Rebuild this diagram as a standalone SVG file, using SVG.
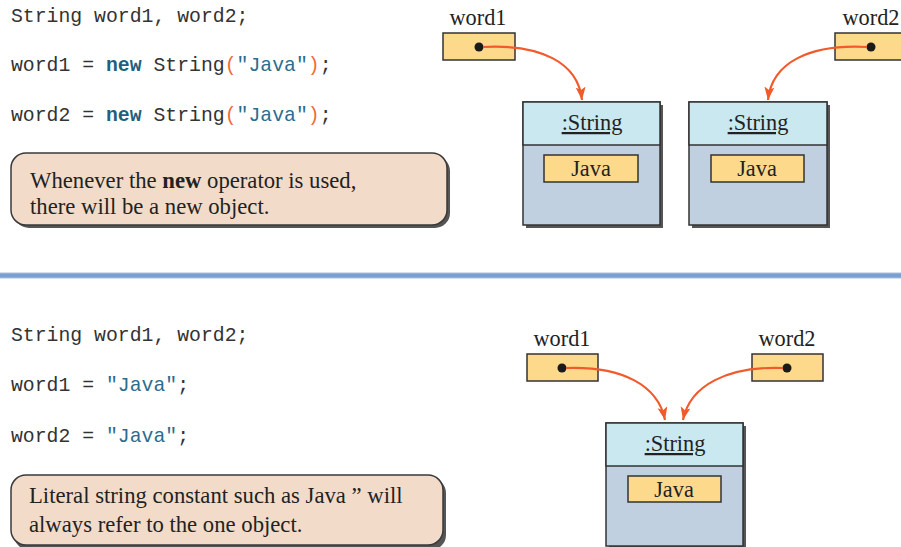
<svg xmlns="http://www.w3.org/2000/svg" width="901" height="547" viewBox="0 0 901 547">
<style>
.code{font-family:"Liberation Mono","Courier New",monospace;font-size:19.8px;fill:#333;}
.kw{font-weight:bold;fill:#1f5f80;}
.str{fill:#2a6d8f;}
.par{fill:#f06a34;}
.serif{font-family:"Liberation Serif","Times New Roman",serif;font-size:22.3px;fill:#222;}
.note{font-family:"Liberation Serif","Times New Roman",serif;font-size:22.7px;fill:#222;}
.callout{fill:#f2dcc9;stroke:#3a3a3a;stroke-width:1.5;}
.cshadow{fill:#555;}
.ref{fill:#fdd98b;stroke:#333;stroke-width:1.5;}
.hdr{fill:#c9e8ef;stroke:#333;stroke-width:1.5;}
.body{fill:#c1d0e0;stroke:#333;stroke-width:1.5;}
.oshadow{fill:#555;}
.dot{fill:#1a1a1a;}
.conn{fill:none;stroke:#f15a2b;stroke-width:2.2;marker-end:url(#ah);}
</style>
<defs>
<marker id="ah" markerUnits="userSpaceOnUse" markerWidth="14" markerHeight="12" refX="13" refY="5" orient="auto">
<path d="M0,0 L13,5 L0,10 L3,5 Z" fill="#f15a2b"/>
</marker>
</defs>
<rect width="901" height="547" fill="#fff"/>

<!-- Top section code -->
<g id="code-top">
<text class="code" x="11" y="22">String word1, word2;</text>
<text class="code" x="11" y="71">word1 = <tspan class="kw">new</tspan> String<tspan class="par">(</tspan><tspan class="str">"Java"</tspan><tspan class="par">)</tspan>;</text>
<text class="code" x="11" y="121">word2 = <tspan class="kw">new</tspan> String<tspan class="par">(</tspan><tspan class="str">"Java"</tspan><tspan class="par">)</tspan>;</text>
</g>

<g id="note-top">
<rect class="cshadow" x="14" y="156" width="436" height="72" rx="15"/>
<rect class="callout" x="11" y="153" width="436" height="72" rx="15"/>
<text class="note" x="30" y="188">Whenever the <tspan font-weight="bold">new</tspan> operator is used,</text>
<text class="note" x="30" y="214">there will be a new object.</text>
</g>

<g id="word1-top">
<text class="serif" x="478" y="25" text-anchor="middle">word1</text>
<rect class="ref" x="443" y="33" width="72" height="27"/>
<circle class="dot" cx="479" cy="47" r="4.5"/>
</g>
<g id="word2-top">
<text class="serif" x="871" y="25" text-anchor="middle">word2</text>
<rect class="ref" x="835" y="33" width="72" height="27"/>
<circle class="dot" cx="871" cy="47" r="4.5"/>
</g>

<g id="string1-top">
<rect class="oshadow" x="526" y="105" width="137" height="123"/>
<rect class="body" x="523" y="102" width="137" height="123"/>
<rect class="hdr" x="523" y="102" width="137" height="43"/>
<text class="serif" x="592" y="130" text-anchor="middle" text-decoration="underline">:String</text>
<rect class="ref" x="544" y="155" width="94" height="27"/>
<text class="serif" x="591" y="176" text-anchor="middle">Java</text>
</g>
<g id="string2-top">
<rect class="oshadow" x="692" y="105" width="138" height="123"/>
<rect class="body" x="689" y="102" width="138" height="123"/>
<rect class="hdr" x="689" y="102" width="138" height="43"/>
<text class="serif" x="758" y="130" text-anchor="middle" text-decoration="underline">:String</text>
<rect class="ref" x="711" y="155" width="93" height="27"/>
<text class="serif" x="757" y="176" text-anchor="middle">Java</text>
</g>

<!-- separator -->
<g id="separator">
<rect x="0" y="272.5" width="901" height="6" fill="#a9bfe0"/>
<rect x="0" y="273.5" width="901" height="4" fill="#7b9fd0"/>
</g>

<!-- Bottom section code -->
<g id="code-bottom">
<text class="code" x="11" y="341">String word1, word2;</text>
<text class="code" x="11" y="391">word1 = <tspan class="str">"Java"</tspan>;</text>
<text class="code" x="11" y="442">word2 = <tspan class="str">"Java"</tspan>;</text>
</g>

<g id="note-bottom">
<rect class="cshadow" x="14" y="478" width="432" height="72" rx="15"/>
<rect class="callout" x="11" y="475" width="432" height="70" rx="15"/>
<text class="note" x="29" y="503">Literal string constant such as Java ” will</text>
<text class="note" x="29" y="532">always refer to the one object.</text>
</g>

<g id="word1-bottom">
<text class="serif" x="562" y="346" text-anchor="middle">word1</text>
<rect class="ref" x="527" y="354" width="71" height="27"/>
<circle class="dot" cx="562" cy="368" r="4.5"/>
</g>
<g id="word2-bottom">
<text class="serif" x="787" y="346" text-anchor="middle">word2</text>
<rect class="ref" x="752" y="354" width="71" height="27"/>
<circle class="dot" cx="787" cy="368" r="4.5"/>
</g>

<g id="string-bottom">
<rect class="oshadow" x="609" y="426" width="137" height="123"/>
<rect class="body" x="606" y="423" width="137" height="123"/>
<rect class="hdr" x="606" y="423" width="137" height="43"/>
<text class="serif" x="675" y="451" text-anchor="middle" text-decoration="underline">:String</text>
<rect class="ref" x="628" y="476" width="93" height="26"/>
<text class="serif" x="674" y="497" text-anchor="middle">Java</text>
</g>

<g id="connectors">
<path class="conn" d="M483,47 C540,44 578,62 582,100"/>
<path class="conn" d="M867,47 C810,44 772,62 768,100"/>
<path class="conn" d="M566,368 C622,366 658,385 665,420"/>
<path class="conn" d="M783,368 C728,366 690,385 683,420"/>
</g>
</svg>
